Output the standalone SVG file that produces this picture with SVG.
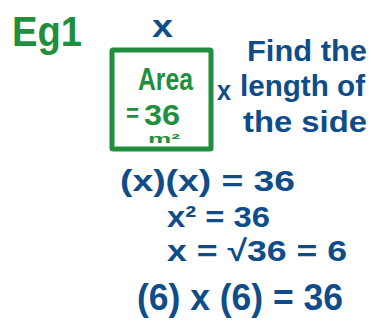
<svg xmlns="http://www.w3.org/2000/svg" width="371" height="325" viewBox="0 0 371 325">
<style>
.g{fill:#1f8f3e;font-family:"Liberation Sans",Arial,sans-serif;font-weight:bold}
.b{fill:#0f4d8a;font-family:"Liberation Sans",Arial,sans-serif;font-weight:bold}
</style>
<rect width="371" height="325" fill="#ffffff"/>
<g id="title">
<text class="g" x="12" y="46" font-size="42" textLength="70" lengthAdjust="spacingAndGlyphs">Eg1</text>
</g>
<g id="square">
<rect x="112" y="50" width="99" height="99" fill="none" stroke="#1f8f3e" stroke-width="5" rx="1"/>
<text class="g" x="138" y="90" font-size="32" textLength="55" lengthAdjust="spacingAndGlyphs">Area</text>
<text class="g" x="126" y="122" font-size="26" textLength="13" lengthAdjust="spacingAndGlyphs">=</text>
<text class="g" x="144" y="125" font-size="30" textLength="36" lengthAdjust="spacingAndGlyphs">36</text>
<text class="g" x="148" y="143" font-size="12" textLength="32" lengthAdjust="spacingAndGlyphs">m²</text>
</g>
<g id="labels">
<text class="b" x="152" y="37" font-size="32" textLength="21" lengthAdjust="spacingAndGlyphs">x</text>
<text class="b" x="217" y="100" font-size="28" textLength="14" lengthAdjust="spacingAndGlyphs">x</text>
<text class="b" x="247" y="61" font-size="30" textLength="120" lengthAdjust="spacingAndGlyphs">Find the</text>
<text class="b" x="240" y="96" font-size="30" textLength="125" lengthAdjust="spacingAndGlyphs">length of</text>
<text class="b" x="243" y="132" font-size="30" textLength="124" lengthAdjust="spacingAndGlyphs">the side</text>
</g>
<g id="working">
<text class="b" x="120" y="191" font-size="30" textLength="175" lengthAdjust="spacingAndGlyphs">(x)(x) = 36</text>
<text class="b" x="167" y="227" font-size="30" textLength="103" lengthAdjust="spacingAndGlyphs">x² = 36</text>
<text class="b" x="167" y="261" font-size="30" textLength="180" lengthAdjust="spacingAndGlyphs">x = √36 = 6</text>
<text class="b" x="137" y="310" font-size="36" textLength="206" lengthAdjust="spacingAndGlyphs">(6) x (6) = 36</text>
</g>
</svg>
